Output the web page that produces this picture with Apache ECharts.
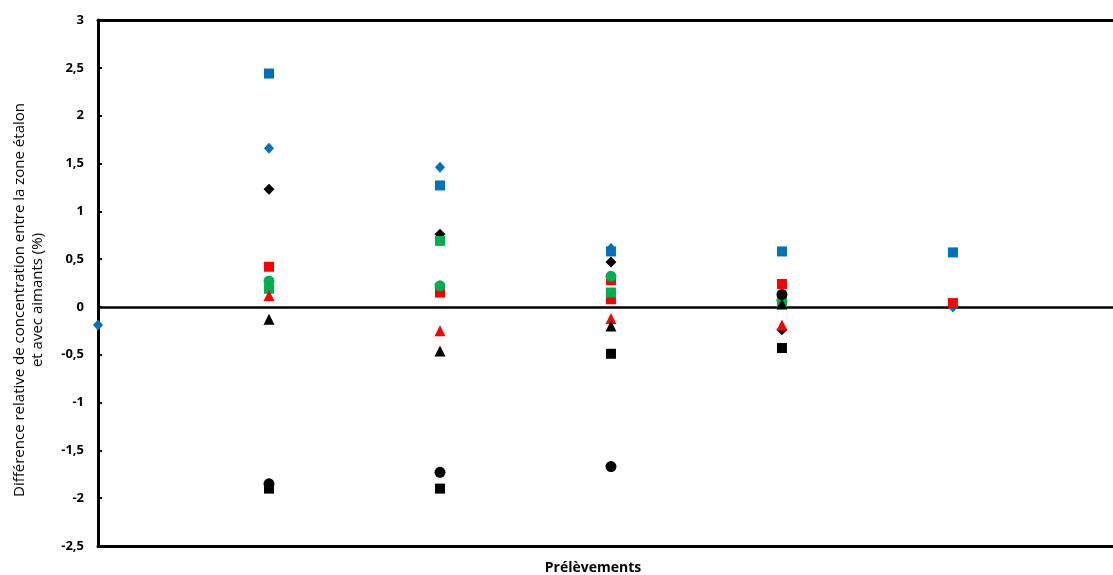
<!DOCTYPE html>
<html>
<head>
<meta charset="utf-8">
<script src="https://cdn.jsdelivr.net/npm/echarts@6/dist/echarts.min.js"></script>
<style>html,body{margin:0;padding:0;background:#fff}#c{width:1113px;height:575px}</style>
</head>
<body>
<div id="c"></div>
<script>
// x = sampling index (Prélèvements), y = relative difference (%)
const blueDiamond   = [[0,-0.19],[1,1.66],[2,1.46],[3,0.61],[5,0.00]];
const blueSquare    = [[1,2.44],[2,1.27],[3,0.58],[4,0.58],[5,0.57]];
const blackDiamond  = [[1,1.23],[2,0.76],[3,0.47],[4,-0.24]];
const redSquare     = [[1,0.42],[2,0.15],[3,0.28],[4,0.24],[5,0.04]];
const redCircle     = [[3,0.08]];
const greenSquare   = [[1,0.19],[2,0.69],[3,0.15],[4,0.05]];
const greenCircle   = [[1,0.27],[2,0.22],[3,0.32],[4,0.07]];
const redTriangle   = [[1,0.12],[2,-0.25],[3,-0.12],[4,-0.19]];
const blackTriangle = [[1,-0.13],[2,-0.46],[3,-0.20],[4,0.03]];
const blackCircle   = [[1,-1.85],[2,-1.73],[3,-1.67],[4,0.13]];
const blackSquare   = [[1,-1.90],[2,-1.90],[3,-0.49],[4,-0.43]];
const xRange = { min: 0, max: 5.936 };   // visible part of the x range (chart is cropped on the right)
const yTicks = { min: -2.5, max: 3, step: 0.5 };
const yTitle = ['Différence relative de concentration entre la zone étalon', 'et avec aimants (%)'];
const xTitle = 'Prélèvements';

const BLUE = '#0070C0', RED = '#FF0000', GREEN = '#00B050', BLACK = '#000000';
function s(name, data, symbol, color, size) {
  return { name, type: 'scatter', data, symbol, symbolSize: size, itemStyle: { color, opacity: 1 }, z: 3 };
}
const seriesList = [
  s('bd', blueDiamond, 'diamond', BLUE, [10, 11]),
  s('bs', blueSquare, 'rect', BLUE, 10),
  s('kd', blackDiamond, 'diamond', BLACK, [11, 11]),
  s('rs', redSquare, 'rect', RED, 10),
  s('rc', redCircle, 'rect', RED, 10),
  s('gs', greenSquare, 'rect', GREEN, 10),
  s('gc', greenCircle, 'circle', GREEN, 11),
  s('rt', redTriangle, 'triangle', RED, 11),
  s('kt', blackTriangle, 'triangle', BLACK, 11),
  s('kc', blackCircle, 'circle', BLACK, 11),
  s('ks', blackSquare, 'rect', BLACK, 10)
];
seriesList[0].markLine = {
  silent: true, symbol: 'none', label: { show: false }, animation: false,
  lineStyle: { color: '#000', width: 2.5, type: 'solid' },
  data: [{ yAxis: 0 }], z: 2
};
const hiddenX = { axisTick: { show: false }, axisLabel: { show: false }, splitLine: { show: false } };
const chart = echarts.init(document.getElementById('c'), null, { renderer: 'canvas' });
chart.setOption({
  animation: false,
  backgroundColor: '#fff',
  grid: { left: 98, top: 20, right: 0, bottom: 29, show: false, containLabel: false },
  xAxis: [
    Object.assign({ type: 'value', min: xRange.min, max: xRange.max, position: 'bottom',
      axisLine: { show: true, onZero: false, lineStyle: { color: '#000', width: 3 } } }, hiddenX),
    Object.assign({ type: 'value', min: xRange.min, max: xRange.max, position: 'top',
      axisLine: { show: true, onZero: false, lineStyle: { color: '#000', width: 3 } } }, hiddenX)
  ],
  yAxis: {
    type: 'value', min: yTicks.min, max: yTicks.max, interval: yTicks.step,
    axisLine: { show: true, lineStyle: { color: '#000', width: 3 } },
    axisTick: { show: true, inside: true, length: 4, lineStyle: { color: '#000', width: 2 } },
    splitLine: { show: false },
    axisLabel: {
      margin: 14, color: '#000', fontWeight: 'bold', fontSize: 13, fontFamily: 'Open Sans',
      formatter: v => String(Math.round(v * 10) / 10).replace('.', ',')
    }
  },
  series: seriesList,
  graphic: [
    { type: 'text', x: 29, y: 300, rotation: Math.PI / 2,
      style: { text: yTitle.join('\n'), fontFamily: 'Open Sans', fontSize: 15, fontWeight: 'normal', lineHeight: 18, fill: '#000', align: 'center', verticalAlign: 'middle' } },
    { type: 'text', x: 593, y: 568,
      style: { text: xTitle, fontFamily: 'Open Sans', fontSize: 14, fontWeight: 'bold', fill: '#000', align: 'center', verticalAlign: 'middle' } }
  ]
});
</script>
</body>
</html>
